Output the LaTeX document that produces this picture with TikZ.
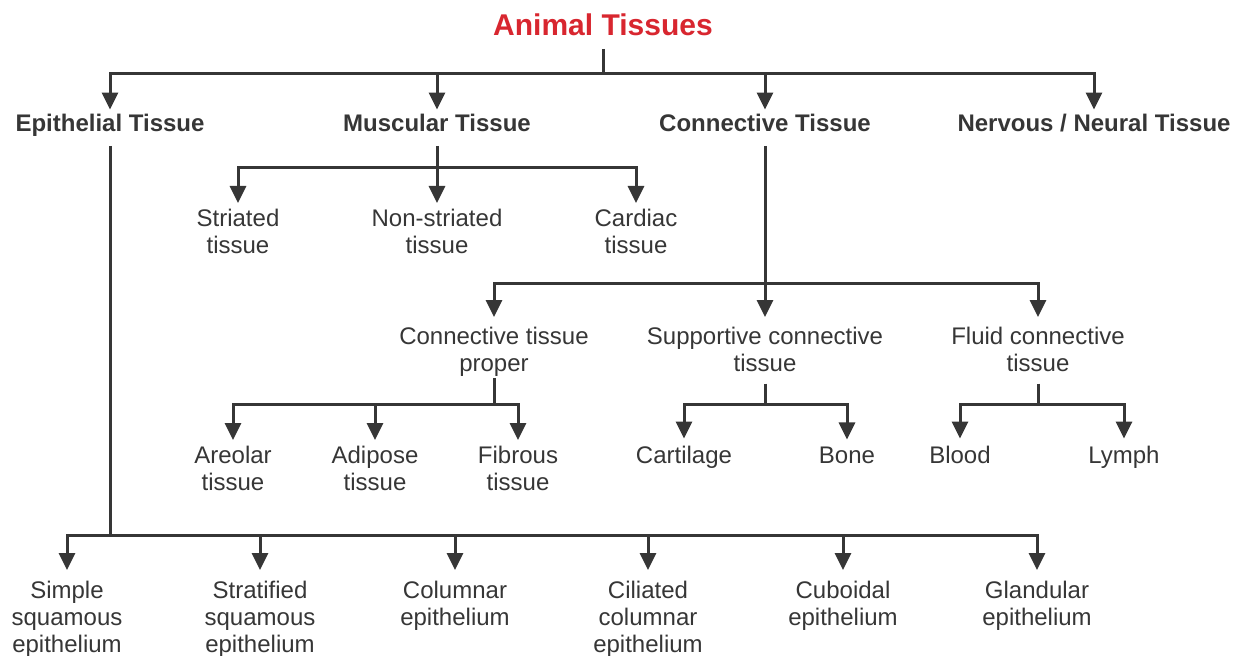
\documentclass[tikz,border=0pt]{standalone}
\usepackage{fontspec}
\setmainfont{Liberation Sans}
\usetikzlibrary{arrows.meta}
\definecolor{ink}{HTML}{363636}
\definecolor{titlered}{HTML}{D8262F}
\begin{document}
\begin{tikzpicture}[x=0.75pt,y=-0.75pt,
  every node/.style={text=ink, inner sep=0pt, outer sep=0pt},
  lbl/.style={font=\fontsize{18pt}{20.25pt}\selectfont, align=center, anchor=north},
  one/.style={font=\fontsize{18pt}{20.25pt}\selectfont, anchor=base},
  head/.style={font=\fontsize{18pt}{20.25pt}\selectfont\bfseries, anchor=base, text depth=0pt},
  ln/.style={draw=ink, line width=2.25pt},
  arr/.style={ln, -{Triangle[length=12.75pt,width=12pt]}},
]
\useasboundingbox (0,0) rectangle (1239,656);

% title
\node[one, font=\fontsize{22.5pt}{24pt}\selectfont\bfseries, text=titlered, text depth=0pt] (title) at (603,36) {Animal Tissues};
\coordinate (tj) at (603,74);

% main headings
\node[head] (epi) at (110,132) {Epithelial Tissue};
\node[head] (mus) at (437,132) {Muscular Tissue};
\node[head] (con) at (765,132) {Connective Tissue};
\node[head] (ner) at (1094,132) {Nervous / Neural Tissue};

\draw[ln, shorten <=9.75pt] (title.south) -- (tj);
\foreach \n in {epi,mus,con,ner}
  \draw[arr, shorten >=3.75pt] (tj) -| (\n.north);

% muscular
\coordinate (mj) at (437,168);
\node[lbl] (str) at (238,209) {Striated\\tissue};
\node[lbl] (nst) at (437,209) {Non-striated\\tissue};
\node[lbl] (car) at (636,209) {Cardiac\\tissue};
\draw[ln, shorten <=10.5pt] (mus.south) -- (mj);
\foreach \n in {str,nst,car}
  \draw[arr, shorten >=4.5pt] (mj) -| (\n.north);

% connective
\coordinate (cj) at (765,283);
\node[lbl] (ctp) at (494,327) {Connective tissue\\proper};
\node[lbl] (sct) at (765,327) {Supportive connective\\tissue};
\node[lbl] (fct) at (1038,327) {Fluid connective\\tissue};
\draw[ln, shorten <=10.5pt] (con.south) -- (cj);
\foreach \n in {ctp,sct,fct}
  \draw[arr, shorten >=7.5pt] (cj) -| (\n.north);

% connective tissue proper
\coordinate (pj) at (494,404);
\node[lbl] (are) at (233,446) {Areolar\\tissue};
\node[lbl] (adi) at (375,446) {Adipose\\tissue};
\node[lbl] (fib) at (518,446) {Fibrous\\tissue};
\draw[ln, shorten <=1.5pt] (ctp.south) -- (pj);
\foreach \n in {are,adi,fib}
  \draw[arr, shorten >=4.5pt] (pj) -| (\n.north);

% supportive
\coordinate (sj) at (765,404);
\node[one] (cart) at (684,463) {Cartilage};
\node[one] (bone) at (847,463) {Bone};
\draw[ln, shorten <=9pt] (sct.south) -- (sj);
\foreach \n in {cart,bone}
  \draw[arr, shorten >=5.25pt] (sj) -| (\n.north);

% fluid
\coordinate (fj) at (1038,404);
\node[one] (blood) at (960,463) {Blood};
\node[one] (lymph) at (1124,463) {Lymph};
\draw[ln, shorten <=9pt] (fct.south) -- (fj);
\foreach \n in {blood,lymph}
  \draw[arr, shorten >=5.25pt] (fj) -| (\n.north);

% epithelial
\coordinate (ej) at (110,535);
\node[lbl] (sim) at (67,581) {Simple\\squamous\\epithelium};
\node[lbl] (stra) at (260,581) {Stratified\\squamous\\epithelium};
\node[lbl] (col) at (455,581) {Columnar\\epithelium};
\node[lbl] (cil) at (648,581) {Ciliated\\columnar\\epithelium};
\node[lbl] (cub) at (843,581) {Cuboidal\\epithelium};
\node[lbl] (gla) at (1037,581) {Glandular\\epithelium};
\draw[ln, shorten <=10.5pt] (epi.south) -- (ej);
\foreach \n in {sim,stra,col,cil,cub,gla}
  \draw[arr, shorten >=8.25pt] (ej) -| (\n.north);
\end{tikzpicture}
\end{document}
